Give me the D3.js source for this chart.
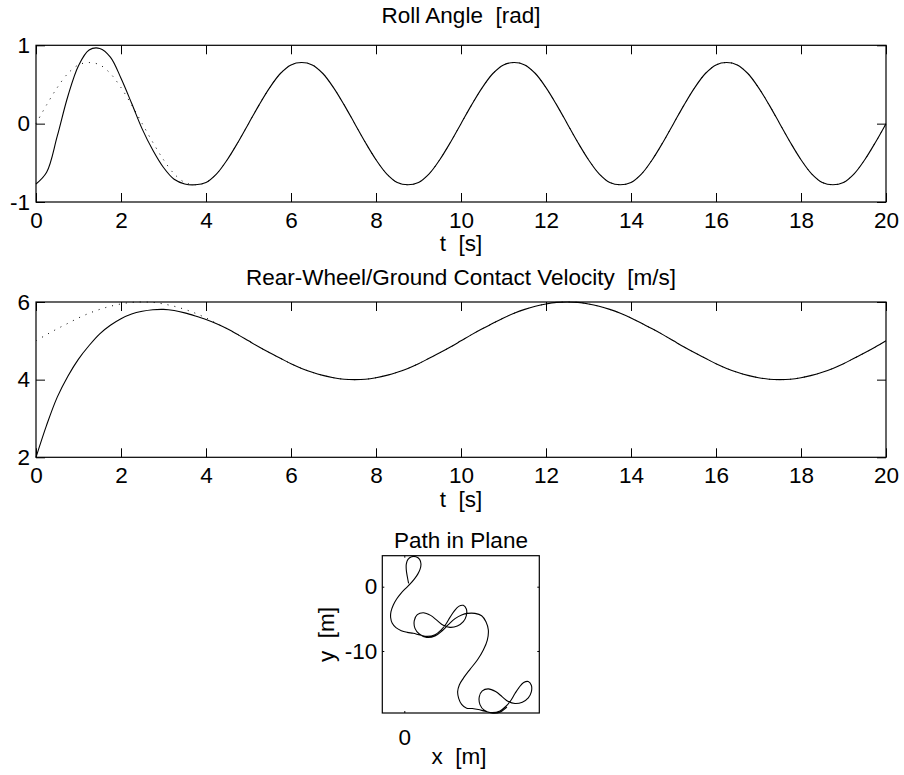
<!DOCTYPE html>
<html>
<head>
<meta charset="utf-8">
<script src="https://cdn.jsdelivr.net/npm/d3@7"></script>
<style>
body { margin: 0; background: #fff; }
svg { display: block; font-family: "Liberation Sans", Arial, Helvetica, sans-serif; }
.axis text { font-size: 22.5px; fill: #000; }
.axis line { stroke: #000; stroke-width: 1; }
.label { font-size: 22.5px; fill: #000; }
</style>
</head>
<body>
<div id="chart"></div>
<script>
// sample grid (s)
var timeSteps = d3.range(0, 20.001, 0.25);

// roll angle [rad], simulated (solid) and desired (dotted)
var rollActual = [
  -0.77, -0.62, -0.16, 0.35, 0.74, 0.94, 0.96, 0.85, 0.58, 0.26, -0.07, -0.34, -0.56, -0.71, -0.77, -0.78, -0.75, -0.64, -0.46, -0.24,
  0.00, 0.24, 0.46, 0.64, 0.75, 0.78, 0.75, 0.64, 0.46, 0.24, 0.00, -0.24, -0.46, -0.64, -0.75, -0.78, -0.75, -0.64, -0.46, -0.24,
  0.00, 0.24, 0.46, 0.64, 0.75, 0.78, 0.75, 0.64, 0.46, 0.24, 0.00, -0.24, -0.46, -0.64, -0.75, -0.78, -0.75, -0.64, -0.46, -0.24,
  0.00, 0.24, 0.46, 0.64, 0.75, 0.78, 0.75, 0.64, 0.46, 0.24, 0.00, -0.24, -0.46, -0.64, -0.75, -0.78, -0.75, -0.64, -0.46, -0.24,
  0.00
];
var rollDesired = [
  0.00, 0.24, 0.46, 0.64, 0.75, 0.78, 0.75, 0.64, 0.46, 0.24, 0.00, -0.24, -0.46, -0.64, -0.75, -0.78, -0.75, -0.64, -0.46, -0.24,
  0.00, 0.24, 0.46, 0.64, 0.75, 0.78, 0.75, 0.64, 0.46, 0.24, 0.00, -0.24, -0.46, -0.64, -0.75, -0.78, -0.75, -0.64, -0.46, -0.24,
  0.00, 0.24, 0.46, 0.64, 0.75, 0.78, 0.75, 0.64, 0.46, 0.24, 0.00, -0.24, -0.46, -0.64, -0.75, -0.78, -0.75, -0.64, -0.46, -0.24,
  0.00, 0.24, 0.46, 0.64, 0.75, 0.78, 0.75, 0.64, 0.46, 0.24, 0.00, -0.24, -0.46, -0.64, -0.75, -0.78, -0.75, -0.64, -0.46, -0.24,
  0.00
];

// rear-wheel contact velocity [m/s]
var speedActual = [
  2.00, 2.83, 3.55, 4.09, 4.53, 4.88, 5.18, 5.40, 5.57, 5.69, 5.76, 5.80, 5.81, 5.78, 5.72, 5.64, 5.55, 5.44, 5.31, 5.16,
  5.00, 4.84, 4.69, 4.55, 4.41, 4.29, 4.19, 4.11, 4.05, 4.01, 4.00, 4.01, 4.05, 4.11, 4.19, 4.29, 4.41, 4.55, 4.69, 4.84,
  5.00, 5.16, 5.31, 5.45, 5.59, 5.71, 5.81, 5.89, 5.95, 5.99, 6.00, 5.99, 5.95, 5.89, 5.81, 5.71, 5.59, 5.45, 5.31, 5.16,
  5.00, 4.84, 4.69, 4.55, 4.41, 4.29, 4.19, 4.11, 4.05, 4.01, 4.00, 4.01, 4.05, 4.11, 4.19, 4.29, 4.41, 4.55, 4.69, 4.84,
  5.00
];
var speedDesired = [
  5.00, 5.16, 5.31, 5.45, 5.59, 5.71, 5.81, 5.89, 5.95, 5.99, 6.00, 5.99, 5.95, 5.89, 5.81, 5.71, 5.59, 5.45, 5.31, 5.16,
  5.00, 4.84, 4.69, 4.55, 4.41, 4.29, 4.19, 4.11, 4.05, 4.01, 4.00, 4.01, 4.05, 4.11, 4.19, 4.29, 4.41, 4.55, 4.69, 4.84,
  5.00, 5.16, 5.31, 5.45, 5.59, 5.71, 5.81, 5.89, 5.95, 5.99, 6.00, 5.99, 5.95, 5.89, 5.81, 5.71, 5.59, 5.45, 5.31, 5.16,
  5.00, 4.84, 4.69, 4.55, 4.41, 4.29, 4.19, 4.11, 4.05, 4.01, 4.00, 4.01, 4.05, 4.11, 4.19, 4.29, 4.41, 4.55, 4.69, 4.84,
  5.00
];

// path in plane [m]
var pathX = [
  // start loop and first bend
  0.67, 0.47, 0.31, 0.31, 0.57, 1.14, 1.81, 2.38, 2.59, 2.44, 2.07, 1.55, 0.98, 0.26, -0.52, -1.19, -1.71, -2.07, -2.12, -1.87,
  -1.30, -0.47,
  // first figure eight
  0.47, 1.40, 2.44, 3.58, 4.77, 5.70, 6.48, 7.10, 7.72, 8.45, 9.17, 9.64, 9.64, 9.17, 8.24, 7.10, 6.06, 5.13, 4.09, 2.95,
  2.02, 1.55, 1.66, 2.33, 3.47, 4.77, 5.85, 6.84, 7.88, 8.91, 9.84, 10.98,
  // S-bend
  12.02, 12.69, 13.06, 12.90, 12.28, 11.35, 10.21, 9.17, 8.55, 8.29, 8.45, 8.91, 9.69,
  // second figure eight
  10.57, 11.50, 12.54, 13.68, 14.87, 15.80, 16.58, 17.20, 17.82, 18.55, 19.27, 19.74, 19.74, 19.27, 18.34, 17.20, 16.16, 15.23, 14.19, 13.05,
  12.12, 11.65, 11.76, 12.43, 13.57, 14.87, 15.95
];
var pathY = [
  0.52, 1.55, 2.59, 3.52, 4.25, 4.66, 4.66, 4.25, 3.52, 2.69, 1.92, 1.19, 0.52, -0.21, -1.04, -1.92, -2.85, -3.89, -4.82, -5.70,
  -6.37, -6.84,
  -7.10, -7.25, -7.51, -7.72, -7.46, -6.74, -5.80, -4.77, -3.83, -3.06, -2.90, -3.47, -4.51, -5.44, -6.11, -6.32, -6.01, -5.28, -4.46, -4.04,
  -4.35, -5.28, -6.48, -7.36, -7.88, -7.67, -6.89, -5.91, -4.97, -4.40, -4.15, -4.15,
  -4.51, -5.44, -6.74, -8.29, -9.84, -11.40, -12.85, -14.25, -15.28, -16.32, -17.36, -18.29, -18.90,
  -18.95, -19.10, -19.36, -19.57, -19.31, -18.59, -17.65, -16.62, -15.68, -14.91, -14.75, -15.32, -16.36, -17.29, -17.96, -18.17, -17.86, -17.13, -16.31, -15.89,
  -16.20, -17.13, -18.33, -19.21, -19.64, -19.52, -18.74
];

var timeTicks = [0, 2, 4, 6, 8, 10, 12, 14, 16, 18, 20];
var rollTicks = [-1, 0, 1];
var speedTicks = [2, 4, 6];
var pathXTicks = [0];
var pathYTicks = [-10, 0];

var svg = d3.select("#chart").append("svg")
  .attr("width", 904)
  .attr("height", 775);
svg.append("rect").attr("width", 904).attr("height", 775).attr("fill", "#fff");

var fmt = function(d) { return String(d); };

function frame(x, y, xTicks, yTicks, tickLen, padX, padY) {
  var x0 = x.range()[0], x1 = x.range()[1];
  var y0 = y.range()[0], y1 = y.range()[1];
  var g = svg.append("g");

  g.append("g").attr("class", "axis")
    .attr("transform", "translate(0," + y0 + ")")
    .call(d3.axisBottom(x).tickValues(xTicks).tickSizeInner(-tickLen).tickSizeOuter(0).tickPadding(padX).tickFormat(fmt));
  g.append("g").attr("class", "axis")
    .attr("transform", "translate(0," + y1 + ")")
    .call(d3.axisTop(x).tickValues(xTicks).tickSizeInner(-tickLen).tickSizeOuter(0).tickFormat(""));
  g.append("g").attr("class", "axis")
    .attr("transform", "translate(" + x0 + ",0)")
    .call(d3.axisLeft(y).tickValues(yTicks).tickSizeInner(-tickLen).tickSizeOuter(0).tickPadding(padY).tickFormat(fmt));
  g.append("g").attr("class", "axis")
    .attr("transform", "translate(" + x1 + ",0)")
    .call(d3.axisRight(y).tickValues(yTicks).tickSizeInner(-tickLen).tickSizeOuter(0).tickFormat(""));

  g.selectAll(".domain").remove();

  g.append("rect")
    .attr("x", x0).attr("y", y1)
    .attr("width", x1 - x0).attr("height", y0 - y1)
    .attr("fill", "none").attr("stroke", "#000").attr("stroke-width", 1.2);
  return g;
}

function label(txt, x, y, rotate) {
  var t = svg.append("text").attr("class", "label")
    .attr("text-anchor", "middle")
    .text(txt);
  if (rotate) t.attr("transform", "translate(" + x + "," + y + ") rotate(-90)");
  else t.attr("x", x).attr("y", y);
}

function series(x, y, vals, dotted) {
  var line = d3.line()
    .x(function(d, i) { return x(timeSteps[i]); })
    .y(function(d) { return y(d); })
    .curve(d3.curveCatmullRom.alpha(0.5));
  var p = svg.append("path")
    .datum(vals)
    .attr("d", line)
    .attr("fill", "none")
    .attr("stroke", "#000")
    .attr("stroke-width", dotted ? 1 : 1.1);
  if (dotted) p.attr("stroke-dasharray", "1,6");
}

// Roll angle
var xRoll = d3.scaleLinear().domain([0, 20]).range([36, 886]);
var yRoll = d3.scaleLinear().domain([-1, 1]).range([202, 45.3]);
series(xRoll, yRoll, rollDesired, true);
series(xRoll, yRoll, rollActual, false);
frame(xRoll, yRoll, timeTicks, rollTicks, 9, 10, 6);
label("Roll Angle\u00a0\u00a0[rad]", 461, 23);
label("t\u00a0\u00a0[s]", 461, 251);

// Velocity
var xSpeed = d3.scaleLinear().domain([0, 20]).range([36, 886]);
var ySpeed = d3.scaleLinear().domain([2, 6]).range([457.3, 302]);
series(xSpeed, ySpeed, speedDesired, true);
series(xSpeed, ySpeed, speedActual, false);
frame(xSpeed, ySpeed, timeTicks, speedTicks, 9, 10, 6);
label("Rear-Wheel/Ground Contact Velocity\u00a0\u00a0[m/s]", 461, 285);
label("t\u00a0\u00a0[s]", 461, 507);

// Path in plane
var xPath = d3.scaleLinear().domain([-3.42, 20.98]).range([382.3, 539.3]);
var yPath = d3.scaleLinear().domain([-19.64, 4.82]).range([713, 555.7]);
var pathLine = d3.line()
  .x(function(d, i) { return xPath(pathX[i]); })
  .y(function(d, i) { return yPath(pathY[i]); })
  .curve(d3.curveCatmullRom.alpha(0.5));
svg.append("path")
  .datum(pathX)
  .attr("d", pathLine)
  .attr("fill", "none")
  .attr("stroke", "#000")
  .attr("stroke-width", 1.1);
frame(xPath, yPath, pathXTicks, pathYTicks, 2, 16, 5);
label("Path in Plane", 461, 548);
label("x\u00a0\u00a0[m]", 459, 764);
label("y\u00a0\u00a0[m]", 334, 634.4, true);
</script>
</body>
</html>
